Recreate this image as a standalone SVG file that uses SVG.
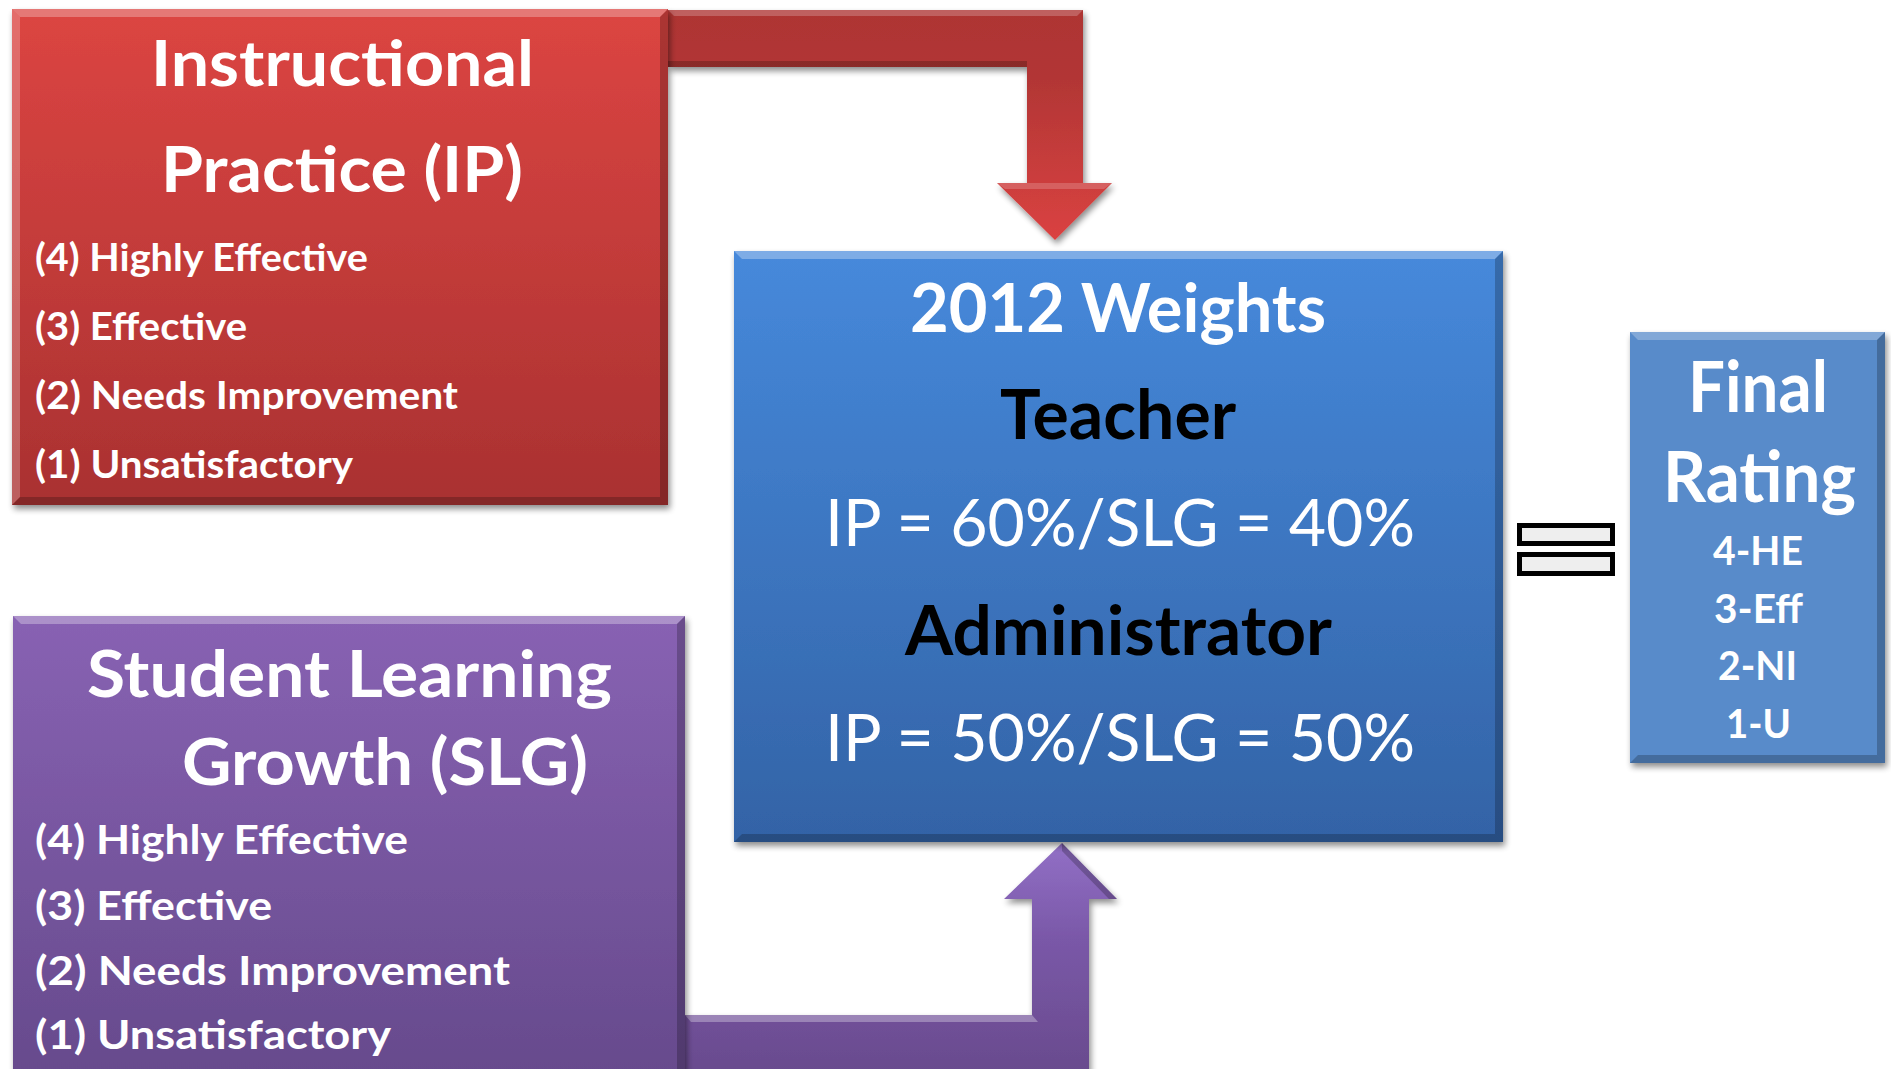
<svg xmlns="http://www.w3.org/2000/svg" width="1891" height="1069" viewBox="0 0 1891 1069">
  <defs>
    <style>
      .t { font-family: Lato, "Open Sans", "Liberation Sans", sans-serif; font-weight: 700; fill: #ffffff; }
      .r { font-weight: 400; }
      .k { fill: #000000; }
      .hi { fill: #ffffff; opacity: 0.22; }
      .lo { fill: #000000; opacity: 0.22; }
      .eq { fill: #eeeeee; stroke: #000000; stroke-width: 5; }
    </style>
    <filter id="shadow" x="-10%" y="-10%" width="120%" height="125%">
      <feGaussianBlur in="SourceAlpha" stdDeviation="3"/>
      <feOffset dx="2" dy="4" result="b"/>
      <feComponentTransfer><feFuncA type="linear" slope="0.45"/></feComponentTransfer>
      <feMerge><feMergeNode/><feMergeNode in="SourceGraphic"/></feMerge>
    </filter>
    <linearGradient id="gRed" x1="0" y1="0" x2="0" y2="1">
      <stop offset="0" stop-color="#dc4542"/>
      <stop offset="1" stop-color="#a93131"/>
    </linearGradient>
    <linearGradient id="gBlue" x1="0" y1="0" x2="0" y2="1">
      <stop offset="0" stop-color="#4689db"/>
      <stop offset="1" stop-color="#3363a6"/>
    </linearGradient>
    <linearGradient id="gPurple" x1="0" y1="0" x2="0" y2="1">
      <stop offset="0" stop-color="#8862b3"/>
      <stop offset="1" stop-color="#664a8c"/>
    </linearGradient>
    <linearGradient id="gRedArrow" x1="0" y1="0" x2="0" y2="1">
      <stop offset="0" stop-color="#ae3433"/>
      <stop offset="0.3" stop-color="#b23635"/>
      <stop offset="1" stop-color="#da4241"/>
    </linearGradient>
    <linearGradient id="gPurpleArrow" x1="0" y1="0" x2="0" y2="1">
      <stop offset="0" stop-color="#9270c6"/>
      <stop offset="0.4" stop-color="#7a58a8"/>
      <stop offset="1" stop-color="#684a8c"/>
    </linearGradient>
  </defs>

  <rect width="1891" height="1069" fill="#ffffff"/>

  <!-- connectors: bent block arrows feeding the weights box -->
  <g id="connectors">
    <g id="arrow-ip" filter="url(#shadow)">
      <path d="M668,10 L1083,10 L1083,183 L1112,183 L1055,240 L997,183 L1027,183 L1027,67 L668,67 Z" fill="url(#gRedArrow)"/>
      <path d="M668,10 L1083,10 L1077,16 L674,16 Z" class="hi"/>
      <path d="M668,61 L1027,61 L1027,67 L668,67 Z" class="lo"/>
      <path d="M997,183 L1112,183 L1104,189 L1005,189 Z" fill="#ffffff" opacity="0.18"/>
    </g>
    <g id="arrow-slg" filter="url(#shadow)">
      <path d="M685,1080 L685,1015 L1032,1015 L1032,899 L1004,899 L1062,843 L1117,899 L1089,899 L1089,1080 Z" fill="url(#gPurpleArrow)"/>
      <path d="M685,1015 L1032,1015 L1038,1022 L691,1022 Z" fill="#ffffff" opacity="0.3"/>
      <path d="M1062,843 L1117,899 L1109,899 L1062,851 Z" class="lo"/>
    </g>
  </g>

  <!-- Instructional Practice -->
  <g id="node-ip">
    <rect x="12" y="9" width="656" height="496" fill="url(#gRed)" filter="url(#shadow)"/>
    <path d="M12,9 L668,9 L660,17 L20,17 Z" fill="#ffffff" opacity="0.28"/>
    <path d="M12,9 L20,17 L20,497 L12,505 Z" class="hi" opacity="0.1"/>
    <path d="M668,9 L668,505 L660,497 L660,17 Z" class="lo"/>
    <path d="M12,505 L668,505 L660,497 L20,497 Z" class="lo"/>
    <text class="t" x="151" y="86" font-size="64" textLength="383" lengthAdjust="spacingAndGlyphs">Instructional</text>
    <text class="t" x="161" y="192" font-size="64" textLength="362" lengthAdjust="spacingAndGlyphs">Practice (IP)</text>
    <text class="t" x="35" y="271" font-size="38" textLength="333" lengthAdjust="spacingAndGlyphs">(4) Highly Effective</text>
    <text class="t" x="35" y="340" font-size="38" textLength="212" lengthAdjust="spacingAndGlyphs">(3) Effective</text>
    <text class="t" x="35" y="409" font-size="38" textLength="423" lengthAdjust="spacingAndGlyphs">(2) Needs Improvement</text>
    <text class="t" x="35" y="478" font-size="38" textLength="318" lengthAdjust="spacingAndGlyphs">(1) Unsatisfactory</text>
  </g>

  <!-- Student Learning Growth -->
  <g id="node-slg">
    <rect x="13" y="616" width="672" height="464" fill="url(#gPurple)" filter="url(#shadow)"/>
    <path d="M13,616 L685,616 L677,624 L21,624 Z" fill="#ffffff" opacity="0.3"/>
    <path d="M685,616 L685,1080 L677,1080 L677,624 Z" class="lo"/>
    <text class="t" x="87" y="697" font-size="65" textLength="525" lengthAdjust="spacingAndGlyphs">Student Learning</text>
    <text class="t" x="182" y="785" font-size="65" textLength="406" lengthAdjust="spacingAndGlyphs">Growth (SLG)</text>
    <text class="t" x="35" y="854" font-size="40" textLength="373" lengthAdjust="spacingAndGlyphs">(4) Highly Effective</text>
    <text class="t" x="35" y="920" font-size="40" textLength="237" lengthAdjust="spacingAndGlyphs">(3) Effective</text>
    <text class="t" x="35" y="985" font-size="40" textLength="475" lengthAdjust="spacingAndGlyphs">(2) Needs Improvement</text>
    <text class="t" x="35" y="1049" font-size="40" textLength="356" lengthAdjust="spacingAndGlyphs">(1) Unsatisfactory</text>
  </g>

  <!-- 2012 Weights -->
  <g id="node-weights">
    <rect x="734" y="251" width="769" height="591" fill="url(#gBlue)" filter="url(#shadow)"/>
    <path d="M734,251 L1503,251 L1495,259 L742,259 Z" fill="#ffffff" opacity="0.3"/>
    <path d="M1503,251 L1503,842 L1495,834 L1495,259 Z" class="lo"/>
    <path d="M734,842 L1503,842 L1495,834 L742,834 Z" class="lo"/>
    <text class="t" x="910" y="332" font-size="66" textLength="416" lengthAdjust="spacingAndGlyphs">2012 Weights</text>
    <text class="t k" x="1000" y="439" font-size="68" textLength="236" lengthAdjust="spacingAndGlyphs">Teacher</text>
    <text class="t r" x="825" y="546" font-size="65" textLength="590" lengthAdjust="spacingAndGlyphs">IP = 60%/SLG = 40%</text>
    <text class="t k" x="905" y="655" font-size="68" textLength="427" lengthAdjust="spacingAndGlyphs">Administrator</text>
    <text class="t r" x="825" y="761" font-size="65" textLength="590" lengthAdjust="spacingAndGlyphs">IP = 50%/SLG = 50%</text>
  </g>

  <!-- equals sign -->
  <g id="node-equals">
    <rect class="eq" x="1519.5" y="525.5" width="93" height="18"/>
    <rect class="eq" x="1519.5" y="554.5" width="93" height="19"/>
  </g>

  <!-- Final Rating -->
  <g id="node-final">
    <rect x="1630" y="332" width="255" height="431" fill="#588bca" filter="url(#shadow)"/>
    <path d="M1630,332 L1885,332 L1877,340 L1638,340 Z" fill="#ffffff" opacity="0.25"/>
    <path d="M1885,332 L1885,763 L1877,755 L1877,340 Z" class="lo"/>
    <path d="M1630,763 L1885,763 L1877,755 L1638,755 Z" class="lo"/>
    <text class="t" x="1688" y="412" font-size="71" textLength="140" lengthAdjust="spacingAndGlyphs">Final</text>
    <text class="t" x="1663" y="502" font-size="71" textLength="193" lengthAdjust="spacingAndGlyphs">Rating</text>
    <text class="t" x="1713" y="565" font-size="40" textLength="90" lengthAdjust="spacingAndGlyphs">4-HE</text>
    <text class="t" x="1714" y="623" font-size="40" textLength="89" lengthAdjust="spacingAndGlyphs">3-Eff</text>
    <text class="t" x="1718" y="680" font-size="40" textLength="79" lengthAdjust="spacingAndGlyphs">2-NI</text>
    <text class="t" x="1726" y="738" font-size="40" textLength="65" lengthAdjust="spacingAndGlyphs">1-U</text>
  </g>
</svg>
